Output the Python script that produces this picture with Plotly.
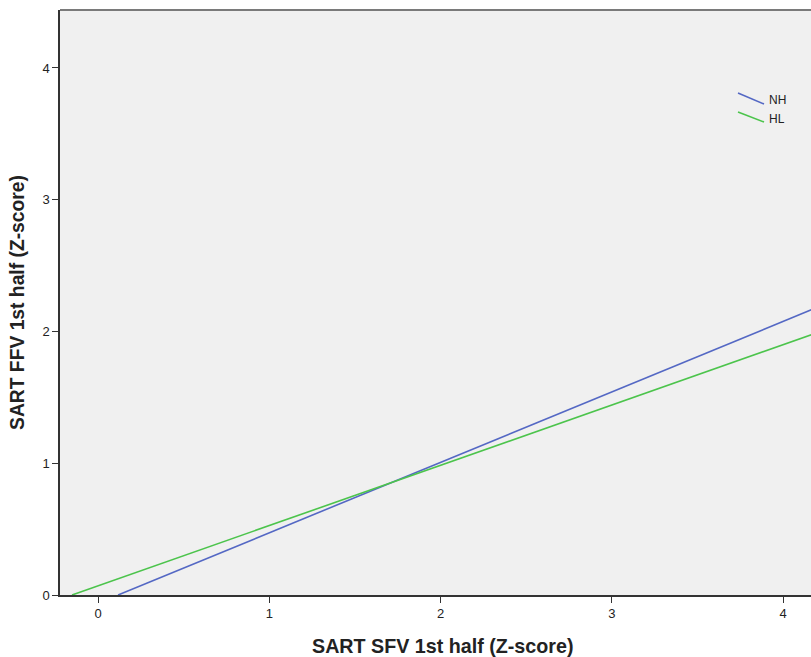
import plotly.graph_objects as go

# Fit-line endpoints
groups = ["NH", "HL"]
nh_x = [0.117, 4.2]
nh_y = [0.0, 2.183]
hl_x = [-0.152, 4.2]
hl_y = [0.0, 1.991]
colors = {"NH": "#5468c4", "HL": "#4cc44c"}

x_ticks = [0, 1, 2, 3, 4]
y_ticks = [0, 1, 2, 3, 4]
x_title = "SART SFV 1st half (Z-score)"
y_title = "SART FFV 1st half (Z-score)"

fig = go.Figure()
fig.add_trace(go.Scatter(x=nh_x, y=nh_y, mode="lines", name="NH",
                         line=dict(color=colors["NH"], width=1.6), showlegend=False))
fig.add_trace(go.Scatter(x=hl_x, y=hl_y, mode="lines", name="HL",
                         line=dict(color=colors["HL"], width=1.6), showlegend=False))

W, H = 811, 657
ml, mr, mt, mb = 60, 0, 10, 62
pw, ph = W - ml - mr, H - mt - mb
def px(x): return (x - ml) / pw
def py(y): return 1 - (y - mt) / ph

legend_rows = [(93, 104, 100), (112, 122, 119)]
for g, (y0, y1, yt) in zip(groups, legend_rows):
    fig.add_shape(type="line", xref="paper", yref="paper",
                  x0=px(738), y0=py(y0), x1=px(764), y1=py(y1),
                  line=dict(color=colors[g], width=1.6))
    fig.add_annotation(xref="paper", yref="paper", x=px(767), y=py(yt),
                       text=g, showarrow=False, xanchor="left", yanchor="middle",
                       font=dict(family="Liberation Sans, Arial", size=12, color="#222"))

# x-axis title (slightly right of plot centre, as in the reference)
fig.add_annotation(xref="paper", yref="paper", x=px(442.5), y=py(646),
                   text="<b>" + x_title + "</b>", showarrow=False,
                   xanchor="center", yanchor="middle",
                   font=dict(family="Liberation Sans, Arial", size=19.7, color="#222"))

fig.add_shape(type="line", xref="paper", yref="paper", x0=0, x1=1, y0=1, y1=1,
              line=dict(color="#7a7a7a", width=2))

fig.update_layout(
    width=W, height=H,
    margin=dict(l=ml, r=mr, t=mt, b=mb),
    paper_bgcolor="white",
    plot_bgcolor="#f0f0f0",
    font=dict(family="Liberation Sans, Arial", color="#222"),
    xaxis=dict(range=[-0.222, 4.163], tickvals=x_ticks, ticks="outside", ticklen=6,
               tickcolor="#333", tickwidth=1, showgrid=False, zeroline=False,
               showline=True, linecolor="#333", linewidth=1.5,
               tickfont=dict(size=13, color="#222")),
    yaxis=dict(range=[0, 4.44], tickvals=y_ticks, ticks="outside", ticklen=6,
               tickcolor="#333", tickwidth=1, showgrid=False, zeroline=False,
               showline=True, linecolor="#333", linewidth=1.5,
               tickfont=dict(size=13, color="#222"),
               title=dict(text="<b>" + y_title + "</b>", font=dict(size=19.3, color="#222"),
                          standoff=13)),
)

fig.write_html("out.html")
